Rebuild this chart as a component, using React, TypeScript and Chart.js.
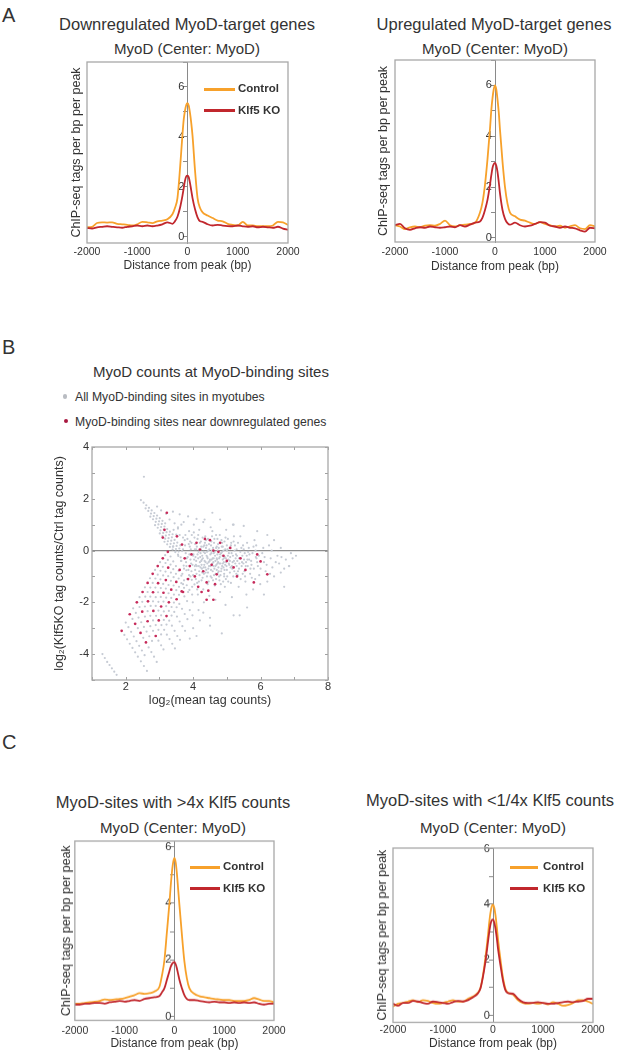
import React, { useEffect, useRef } from "react";
import { Chart, registerables } from "chart.js";
Chart.register(...registerables);

const FONT = "'Liberation Sans', Arial, Helvetica, sans-serif";
const TEXT = "#333333";
const ORANGE = "#f7a12b";
const RED = "#c1272d";
Chart.defaults.font.family = FONT;
Chart.defaults.color = TEXT;

// ---- profile data (distance from peak, bp) ----
const positions = [-2000, -1900, -1800, -1700, -1600, -1500, -1400, -1300, -1200, -1100, -1000, -900, -800, -700, -600, -500, -400, -300, -250, -200, -150, -100, -75, -50, -25, 0, 25, 50, 75, 100, 150, 200, 250, 300, 400, 500, 600, 700, 800, 900, 1000, 1100, 1200, 1300, 1400, 1500, 1600, 1700, 1800, 1900, 2000];
const xTicks = [-2000, -1000, 0, 1000, 2000];

const downControl = [0.38, 0.40, 0.55, 0.58, 0.57, 0.58, 0.52, 0.50, 0.48, 0.45, 0.50, 0.60, 0.58, 0.55, 0.62, 0.65, 0.70, 0.90, 1.15, 1.55, 2.70, 4.10, 4.70, 5.05, 5.28, 5.35, 5.25, 4.95, 4.55, 4.05, 2.65, 1.55, 1.15, 0.98, 0.85, 0.75, 0.65, 0.62, 0.52, 0.48, 0.45, 0.60, 0.45, 0.45, 0.42, 0.42, 0.42, 0.45, 0.60, 0.58, 0.47];
const downKO = [0.35, 0.33, 0.38, 0.40, 0.42, 0.40, 0.38, 0.36, 0.40, 0.42, 0.45, 0.42, 0.45, 0.42, 0.45, 0.50, 0.58, 0.52, 0.62, 0.80, 1.15, 1.65, 1.95, 2.25, 2.42, 2.45, 2.38, 2.15, 1.85, 1.55, 1.10, 0.78, 0.62, 0.60, 0.50, 0.45, 0.48, 0.45, 0.43, 0.42, 0.45, 0.42, 0.40, 0.42, 0.38, 0.40, 0.38, 0.36, 0.40, 0.33, 0.28];

const upControl = [0.50, 0.45, 0.35, 0.42, 0.45, 0.42, 0.48, 0.50, 0.48, 0.55, 0.68, 0.50, 0.45, 0.50, 0.52, 0.55, 0.60, 1.00, 1.40, 2.10, 3.10, 4.30, 5.00, 5.50, 5.85, 6.00, 5.85, 5.45, 4.95, 4.25, 3.00, 2.00, 1.35, 1.00, 0.85, 0.72, 0.68, 0.60, 0.55, 0.62, 0.55, 0.50, 0.45, 0.48, 0.40, 0.45, 0.50, 0.38, 0.35, 0.50, 0.45];
const upKO = [0.50, 0.55, 0.38, 0.32, 0.38, 0.42, 0.40, 0.45, 0.42, 0.40, 0.42, 0.45, 0.42, 0.50, 0.45, 0.52, 0.60, 0.65, 0.80, 1.10, 1.50, 2.10, 2.45, 2.75, 2.90, 2.95, 2.85, 2.60, 2.20, 1.75, 1.10, 0.75, 0.58, 0.52, 0.60, 0.50, 0.45, 0.48, 0.55, 0.62, 0.60, 0.48, 0.45, 0.40, 0.45, 0.40, 0.38, 0.30, 0.25, 0.40, 0.38];

const highControl = [0.45, 0.45, 0.48, 0.50, 0.52, 0.55, 0.60, 0.58, 0.60, 0.62, 0.65, 0.70, 0.75, 0.82, 0.80, 0.82, 0.88, 1.05, 1.45, 2.00, 3.00, 4.00, 4.60, 5.10, 5.45, 5.60, 5.45, 5.05, 4.50, 3.95, 2.90, 1.95, 1.35, 1.00, 0.80, 0.72, 0.68, 0.65, 0.62, 0.60, 0.58, 0.58, 0.55, 0.55, 0.55, 0.58, 0.65, 0.60, 0.55, 0.55, 0.50];
const highKO = [0.42, 0.42, 0.45, 0.45, 0.48, 0.48, 0.45, 0.50, 0.52, 0.55, 0.52, 0.55, 0.58, 0.55, 0.62, 0.65, 0.68, 0.72, 0.85, 1.00, 1.30, 1.60, 1.75, 1.85, 1.90, 1.92, 1.85, 1.70, 1.50, 1.30, 1.00, 0.75, 0.62, 0.58, 0.58, 0.55, 0.52, 0.50, 0.52, 0.50, 0.50, 0.48, 0.50, 0.48, 0.50, 0.48, 0.50, 0.45, 0.42, 0.45, 0.45];

const lowControl = [0.32, 0.42, 0.45, 0.50, 0.55, 0.48, 0.55, 0.52, 0.45, 0.42, 0.45, 0.50, 0.55, 0.50, 0.50, 0.60, 0.68, 0.82, 1.00, 1.45, 2.10, 2.90, 3.35, 3.70, 3.92, 3.98, 3.88, 3.60, 3.20, 2.75, 2.00, 1.35, 0.95, 0.82, 0.75, 0.55, 0.45, 0.42, 0.45, 0.42, 0.45, 0.40, 0.48, 0.42, 0.35, 0.38, 0.45, 0.55, 0.55, 0.50, 0.42];
const lowKO = [0.42, 0.35, 0.45, 0.45, 0.52, 0.50, 0.45, 0.42, 0.50, 0.48, 0.45, 0.42, 0.48, 0.52, 0.50, 0.55, 0.65, 0.80, 0.98, 1.40, 1.95, 2.65, 3.00, 3.28, 3.42, 3.45, 3.35, 3.12, 2.80, 2.40, 1.80, 1.25, 0.90, 0.80, 0.78, 0.60, 0.48, 0.45, 0.45, 0.48, 0.45, 0.42, 0.42, 0.45, 0.48, 0.50, 0.48, 0.50, 0.52, 0.60, 0.60];

// ---- scatter data: [log2(mean tag counts), log2(Klf5KO/Ctrl)] ----
const allSites: [number, number][] = [
  [1.31, -4.0], [1.38, -4.15], [1.45, -4.3], [1.52, -4.42], [1.59, -4.55], [1.66, -4.68], [1.73, -4.8],
  [1.96, -3.26], [2.04, -3.43], [2.12, -3.6], [2.2, -3.76], [2.28, -3.93], [2.36, -4.1], [2.45, -4.28], [2.54, -4.46], [2.63, -4.65],
  [2.2, -2.64], [2.36, -3.0], [2.52, -3.37], [2.68, -3.74], [2.76, -3.92], [2.84, -4.1], [2.92, -4.3],
  [2.41, -2.18], [2.57, -2.55], [2.73, -2.92], [2.81, -3.1], [2.97, -3.48], [3.05, -3.66], [3.12, -3.82],
  [2.58, -1.78], [2.74, -2.14], [2.9, -2.52], [3.06, -2.88], [3.14, -3.06], [3.22, -3.25], [3.3, -3.42], [3.38, -3.6], [3.46, -3.78],
  [2.73, -1.43], [2.89, -1.8], [2.97, -1.98], [3.13, -2.35], [3.29, -2.71], [3.37, -2.9], [3.45, -3.1], [3.53, -3.3], [3.61, -3.45],
  [2.88, -1.08], [3.04, -1.45], [3.2, -1.82], [3.36, -2.18], [3.44, -2.37], [3.52, -2.55], [3.6, -2.74], [3.68, -2.92], [3.76, -3.1],
  [3.03, -0.78], [3.11, -0.96], [3.27, -1.33], [3.43, -1.7], [3.59, -2.06], [3.67, -2.25], [3.75, -2.45], [3.83, -2.65],
  [3.18, -0.48], [3.34, -0.85], [3.42, -1.03], [3.58, -1.4], [3.74, -1.77], [3.82, -1.95], [3.9, -2.3], [3.98, -2.5],
  [3.33, -0.23], [3.41, -0.42], [3.49, -0.6], [3.57, -0.78], [3.65, -0.97], [3.73, -1.15], [3.81, -1.34], [3.89, -1.52], [3.97, -1.7],
  [3.4, 0.15], [3.48, -0.03], [3.56, -0.21], [3.64, -0.4], [3.72, -0.58], [3.8, -0.76], [3.88, -0.95], [3.96, -1.13], [4.04, -1.31], [4.12, -1.5],
  [2.0, -2.78], [2.08, -2.96], [2.16, -3.14], [2.24, -3.32], [2.32, -3.5], [2.4, -3.68], [2.48, -3.86], [2.56, -4.04],
  [2.22, -2.23], [2.3, -2.41], [2.38, -2.59], [2.46, -2.77], [2.54, -2.95], [2.62, -3.13], [2.7, -3.31], [2.78, -3.49],
  [2.41, -1.8], [2.49, -1.98], [2.57, -2.16], [2.65, -2.34], [2.73, -2.52], [2.81, -2.7], [2.89, -2.88], [2.97, -3.06], [3.05, -3.24],
  [2.57, -1.42], [2.65, -1.6], [2.73, -1.78], [2.81, -1.96], [2.89, -2.14], [2.97, -2.32], [3.05, -2.5], [3.13, -2.68], [3.21, -2.86],
  [2.72, -1.07], [2.8, -1.25], [2.88, -1.43], [2.96, -1.61], [3.04, -1.79], [3.12, -1.97], [3.2, -2.15], [3.28, -2.33], [3.36, -2.51],
  [2.87, -0.75], [2.95, -0.93], [3.03, -1.11], [3.11, -1.29], [3.19, -1.47], [3.27, -1.65], [3.35, -1.83], [3.43, -2.01], [3.51, -2.19],
  [3.02, -0.45], [3.1, -0.63], [3.18, -0.81], [3.26, -0.99], [3.34, -1.17], [3.42, -1.35], [3.5, -1.53], [3.58, -1.71],
  [3.17, -0.18], [3.25, -0.36], [3.33, -0.54], [3.41, -0.72], [3.49, -0.9], [3.57, -1.08], [3.65, -1.26], [3.73, -1.44],
  [2.45, 1.95], [2.53, 1.85], [2.61, 1.75], [2.69, 1.65], [2.77, 1.55], [2.85, 1.45], [2.93, 1.35], [3.01, 1.25], [3.09, 1.15], [3.17, 1.05],
  [2.59, 1.63], [2.67, 1.53], [2.75, 1.43], [2.83, 1.33], [2.91, 1.23], [2.99, 1.13], [3.07, 1.03], [3.15, 0.93], [3.23, 0.83], [3.31, 0.73], [3.39, 0.63],
  [2.73, 1.31], [2.81, 1.21], [2.89, 1.11], [2.97, 1.01], [3.05, 0.91], [3.13, 0.81], [3.21, 0.71], [3.29, 0.61], [3.37, 0.51], [3.45, 0.41], [3.53, 0.31],
  [2.87, 0.98], [2.95, 0.88], [3.03, 0.78], [3.11, 0.68], [3.19, 0.58], [3.27, 0.48], [3.35, 0.38], [3.43, 0.28], [3.51, 0.18], [3.59, 0.08], [3.67, -0.02],
  [3.01, 0.66], [3.09, 0.56], [3.17, 0.46], [3.25, 0.36], [3.33, 0.26], [3.41, 0.16], [3.49, 0.06], [3.57, -0.04],
  [3.15, 0.34], [3.23, 0.24], [3.31, 0.14], [3.39, 0.04], [3.47, -0.06], [3.55, -0.16], [3.63, -0.26],
  [2.54, 2.85], [2.93, 1.7], [3.05, 1.55], [3.2, 1.42], [3.4, 1.5], [3.6, 1.4], [3.85, 1.32], [4.1, 1.22], [4.3, 1.1], [4.57, 1.46],
  [3.3, 1.2], [3.45, 1.05], [3.55, 0.85], [3.42, 0.8], [3.5, 0.62], [3.65, 1.0], [3.7, 0.5],
  [4.1, -3.3], [4.85, -3.2], [4.2, -2.7], [4.5, -2.9], [5.2, -2.5], [5.6, -2.2], [6.1, -1.7], [6.7, -1.4], [4.0, -3.0], [3.9, -3.4], [4.3, -2.4],
  [6.84, -0.6], [7.05, -0.2], [6.6, 0.1], [6.4, 0.4], [6.2, 0.6], [5.9, 0.75], [5.5, 0.95], [5.2, 1.0], [4.8, 1.2],
  [3.55, 0.9], [3.6, 0.6], [3.62, 0.2], [3.65, -0.4], [3.68, -0.9], [3.7, -1.3], [3.72, 1.1], [3.75, 0.4], [3.78, -0.1], [3.8, -0.6], [3.82, -1.1], [3.85, -1.6], [3.88, 0.75], [3.9, 0.15], [3.92, -0.35], [3.95, -0.8], [3.97, -1.4], [3.99, -2.0],
  [4.02, 1.0], [4.04, 0.5], [4.05, 0.05], [4.07, -0.25], [4.08, -0.55], [4.1, -0.9], [4.12, -1.25], [4.14, -1.7], [4.16, -2.3], [4.18, 0.8], [4.2, 0.3], [4.22, -0.1], [4.24, -0.4], [4.26, -0.7], [4.28, -1.05], [4.3, -1.5], [4.32, -2.0], [4.34, 1.2], [4.36, 0.55], [4.38, 0.1], [4.4, -0.2], [4.42, -0.5], [4.44, -0.85], [4.46, -1.2], [4.48, -1.75], [4.5, -2.6],
  [4.52, 0.9], [4.54, 0.35], [4.56, 0.0], [4.58, -0.3], [4.6, -0.6], [4.62, -0.95], [4.64, -1.35], [4.66, -1.9], [4.68, 0.6], [4.7, 0.15], [4.72, -0.15], [4.74, -0.45], [4.76, -0.8], [4.78, -1.15], [4.8, -1.6], [4.84, 0.4], [4.86, -0.05], [4.88, -0.35], [4.9, -0.65], [4.92, -1.0], [4.94, -1.4], [4.96, -2.1], [4.98, 0.8],
  [5.0, 0.2], [5.03, -0.2], [5.06, -0.5], [5.09, -0.85], [5.12, -1.25], [5.15, -1.8], [5.18, 1.0], [5.2, 0.35], [5.23, 0.0], [5.26, -0.3], [5.29, -0.6], [5.32, -0.95], [5.35, -1.4], [5.38, -2.5], [5.4, 0.55], [5.43, 0.1], [5.46, -0.2], [5.49, -0.5],
  [5.52, -0.8], [5.55, -1.2], [5.58, -1.7], [5.6, 0.3], [5.63, -0.05], [5.66, -0.35], [5.7, -0.7], [5.74, -1.05], [5.78, -1.5], [5.82, 0.4], [5.85, 0.0], [5.88, -0.3], [5.92, -0.6], [5.96, -0.95], [5.99, -1.3],
  [6.05, -0.1], [6.1, -0.45], [6.15, -0.8], [6.2, -1.2], [6.25, 0.2], [6.3, -0.3], [6.35, -0.65], [6.4, -1.0], [6.5, -0.2], [6.55, -0.5], [6.6, -0.85], [6.75, -0.35], [6.85, -0.6], [6.95, -0.3],
  [3.84, -0.25], [3.93, 0.05], [3.98, -0.55], [4.01, -0.15], [4.06, -0.75], [4.09, -0.4], [4.11, 0.15], [4.15, -0.3], [4.17, -0.6], [4.19, -0.95], [4.21, -0.25], [4.23, 0.05], [4.25, -0.55], [4.27, -0.85], [4.29, -0.3], [4.31, -0.65], [4.33, 0.2], [4.35, -0.1], [4.37, -0.45], [4.39, -0.75], [4.41, -1.0], [4.43, -0.3], [4.45, 0.0], [4.47, -0.6], [4.49, -0.4],
  [4.51, -0.15], [4.53, -0.75], [4.55, -1.05], [4.57, -0.5], [4.59, 0.1], [4.61, -0.3], [4.63, -0.7], [4.65, -0.2], [4.67, -0.9], [4.69, -0.55], [4.71, -0.35], [4.73, 0.0], [4.75, -0.65], [4.77, -1.0], [4.79, -0.25], [4.81, -0.5], [4.83, -0.8], [4.85, 0.15], [4.87, -0.2], [4.89, -1.2], [4.91, -0.45], [4.93, -0.75], [4.95, 0.05], [4.97, -0.3], [4.99, -0.6],
  [5.01, -1.0], [5.05, -0.35], [5.08, 0.1], [5.11, -0.65], [5.14, -0.1], [5.17, -0.45], [5.22, -0.8], [5.27, -0.15], [5.31, -0.4], [5.36, -0.7], [5.42, -0.3], [5.47, -0.9], [5.53, -0.1], [5.57, -0.45],
  [3.76, 0.2], [3.79, -0.45], [3.83, 0.45], [3.86, -0.75], [3.89, -0.15], [3.91, 0.35], [3.94, -0.5], [3.96, 0.6], [4.0, -0.95], [4.03, -0.35], [4.06, 0.25], [4.08, -1.1], [4.11, -0.6], [4.13, 0.45], [4.16, -0.05], [4.18, -0.8], [4.2, -0.45], [4.23, 0.35], [4.25, -1.15], [4.27, -0.2],
  [4.3, 0.15], [4.32, -0.9], [4.34, -0.4], [4.36, -0.65], [4.38, 0.4], [4.41, -0.05], [4.43, -1.3], [4.45, -0.7], [4.47, 0.25], [4.5, -0.35], [4.52, -1.0], [4.54, -0.1], [4.56, 0.55], [4.58, -0.8], [4.6, -0.45], [4.62, 0.3], [4.64, -0.05], [4.66, -0.6], [4.68, -1.1], [4.7, -0.3],
  [4.72, 0.45], [4.74, -0.85], [4.76, 0.1], [4.78, -0.5], [4.8, -0.15], [4.82, -1.3], [4.84, -0.7], [4.86, 0.3], [4.88, -0.5], [4.9, 0.0], [4.92, -0.9], [4.94, -0.25], [4.96, 0.5], [4.98, -0.45], [5.0, -0.75], [5.02, 0.05], [5.04, -1.2], [5.07, -0.55], [5.1, -0.25], [5.13, 0.3],
  [5.16, -0.7], [5.19, -1.0], [5.21, -0.4], [5.24, 0.2], [5.28, -0.9], [5.3, -0.2], [5.33, 0.3], [5.37, -0.5], [5.41, -1.1], [5.44, -0.6], [5.48, 0.2], [5.51, -0.35], [5.54, -1.0], [5.59, -0.2], [5.62, -0.6], [5.65, 0.1], [5.69, -0.9], [5.72, -0.4], [5.76, -0.1], [5.8, -0.7],
  [5.84, -1.1], [5.87, 0.2], [5.9, -0.45], [5.95, -0.2], [6.0, -0.7], [6.08, 0.1], [6.12, -0.25], [6.18, -0.55], [6.28, -0.9], [6.33, 0.0], [6.45, -0.45], [6.62, -0.25], [6.7, -0.7], [6.9, -0.1],
  [3.7, 0.05], [3.73, -0.7], [3.77, 0.6], [3.81, -0.3], [3.87, 0.25], [3.92, -1.0], [3.95, 0.3], [4.0, -0.2], [4.02, 0.7], [4.05, -0.6], [4.09, 0.05], [4.13, -0.15], [4.15, 0.6], [4.17, -1.2], [4.22, -0.65], [4.24, 0.15], [4.26, -0.35], [4.28, 0.5], [4.31, -0.05], [4.33, -0.55],
  [4.35, 0.3], [4.37, -0.85], [4.4, 0.2], [4.42, -0.25], [4.44, 0.45], [4.46, -0.45], [4.48, 0.05], [4.51, -0.6], [4.53, 0.2], [4.55, -0.35], [4.57, 0.75], [4.59, -1.15], [4.61, -0.1], [4.63, 0.45], [4.66, -0.4], [4.68, 0.1], [4.7, -0.75], [4.72, -0.5], [4.74, 0.25], [4.77, -0.3],
  [4.79, 0.6], [4.81, -0.95], [4.83, -0.1], [4.86, -0.6], [4.88, 0.15], [4.91, -0.3], [4.93, 0.35], [4.95, -0.55], [4.97, -1.1], [5.0, 0.0], [5.03, 0.45], [5.06, -0.1], [5.09, -0.4], [5.12, 0.2], [5.15, -0.6], [5.18, -0.2], [5.21, 0.55], [5.25, -0.5], [5.29, 0.05], [5.33, -0.8],
  [5.36, -0.3], [5.4, -0.05], [5.45, -0.45], [5.5, 0.05], [5.56, -0.6], [5.61, -0.35], [5.67, -0.15], [5.73, -0.55], [5.79, 0.15], [5.86, -0.25]
];

const downSites: [number, number][] = [
  [1.88, -3.1], [2.12, -2.46], [2.28, -2.83], [2.44, -3.18], [2.6, -3.55],
  [2.33, -2.0], [2.49, -2.36], [2.65, -2.73], [2.89, -3.3],
  [2.5, -1.6], [2.66, -1.96], [2.82, -2.33], [2.98, -2.7],
  [2.65, -1.25], [2.81, -1.61], [3.05, -2.16], [3.21, -2.53],
  [2.8, -0.9], [2.96, -1.26], [3.12, -1.63], [3.28, -2.0],
  [2.95, -0.6], [3.19, -1.14], [3.35, -1.51], [3.51, -1.88],
  [3.1, -0.3], [3.26, -0.66], [3.5, -1.21], [3.66, -1.58], [3.25, -0.05],
  [3.22, 1.46], [3.1, 0.5], [3.15, 0.8], [3.52, 0.55], [3.67, 0.23], [4.2, 0.04], [4.5, 0.4], [4.35, 0.45], [4.6, 0.0], [4.8, 0.3],
  [5.0, -0.4], [5.2, -0.65], [6.0, -0.42], [6.2, -0.92], [5.8, -1.23], [4.7, -0.92], [4.4, -1.23], [4.4, -1.9], [4.6, -1.9], [3.75, -0.3],
  [3.9, -0.6], [4.05, -1.0], [4.15, -1.4], [3.85, -1.1], [4.3, -0.8], [4.55, -0.55], [4.9, -0.2], [5.1, 0.1], [5.4, -0.3], [5.55, -0.75],
  [5.9, -0.15], [4.25, -1.6], [4.45, -1.55], [3.95, -0.15], [4.65, -1.3], [5.3, -1.0], [3.6, -0.75], [3.7, -1.6], [4.1, 0.3], [4.75, -0.05]
];

type Box = { l: number; t: number; r: number; b: number };

const framePlugin = {
  id: "frame",
  afterDraw(chart: any) {
    const { ctx, chartArea: a } = chart;
    ctx.save();
    ctx.strokeStyle = "#a8a8a8";
    ctx.lineWidth = 1.3;
    ctx.strokeRect(a.left, a.top, a.right - a.left, a.bottom - a.top);
    ctx.restore();
  },
};

const innerTicksPlugin = {
  id: "innerTicks",
  afterDraw(chart: any) {
    const { ctx, chartArea: a, scales } = chart;
    ctx.save();
    ctx.strokeStyle = "#a0a0a0";
    ctx.lineWidth = 1;
    ctx.beginPath();
    scales.x.ticks.forEach((t: any) => {
      const px = Math.round(scales.x.getPixelForValue(t.value)) + 0.5;
      ctx.moveTo(px, a.top); ctx.lineTo(px, a.top + 3);
      ctx.moveTo(px, a.bottom); ctx.lineTo(px, a.bottom - 3);
    });
    scales.y.ticks.forEach((t: any) => {
      const py = Math.round(scales.y.getPixelForValue(t.value)) + 0.5;
      ctx.moveTo(a.left, py); ctx.lineTo(a.left + 3, py);
      ctx.moveTo(a.right, py); ctx.lineTo(a.right - 3, py);
    });
    ctx.stroke();
    ctx.restore();
  },
};

function Profile(props: { box: Box; yMin: number; yMax: number; control: number[]; ko: number[]; yTitleW: number; xAxisH: number; xTickPad: number }) {
  const { box, yMin, yMax, control, ko, yTitleW, xAxisH, xTickPad } = props;
  const ref = useRef<HTMLCanvasElement>(null);
  const padT = 10;
  const padR = 20;
  const left = box.l - yTitleW;
  const top = box.t - padT;
  const width = box.r - box.l + yTitleW + padR;
  const height = box.b - box.t + padT + xAxisH;
  useEffect(() => {
    const chart = new Chart(ref.current as HTMLCanvasElement, {
      type: "line",
      data: {
        datasets: [
          { label: "Klf5 KO", data: positions.map((x, i) => ({ x, y: ko[i] })), borderColor: RED, borderWidth: 1.8, pointRadius: 0, cubicInterpolationMode: "monotone", xAxisID: "x", yAxisID: "y" },
          { label: "Control", data: positions.map((x, i) => ({ x, y: control[i] })), borderColor: ORANGE, borderWidth: 1.8, pointRadius: 0, cubicInterpolationMode: "monotone", xAxisID: "x", yAxisID: "y" },
        ],
      } as any,
      options: {
        animation: false,
        responsive: false,
        maintainAspectRatio: false,
        events: [],
        layout: { padding: { left: 0, top: padT, right: padR, bottom: 0 } },
        plugins: { legend: { display: false }, tooltip: { enabled: false } },
        scales: {
          x: {
            type: "linear",
            min: -2000,
            max: 2000,
            afterBuildTicks: (s: any) => { s.ticks = xTicks.map((v) => ({ value: v })); },
            ticks: { font: { size: 10.5 }, color: TEXT, padding: xTickPad, maxRotation: 0, autoSkip: false, callback: (v: any) => String(v) },
            grid: { display: false, drawTicks: false },
            border: { display: false },
            title: { display: true, text: "Distance from peak (bp)", font: { size: 12 }, color: TEXT, padding: 0 },
            afterFit: (s: any) => { s.height = xAxisH; },
          },
          y: {
            type: "linear",
            axis: "y",
            min: yMin,
            max: yMax,
            position: { x: 0 },
            ticks: { stepSize: 1, includeBounds: false, font: { size: 11 }, color: TEXT, padding: 2, callback: (v: any) => (Number(v) % 2 === 0 ? String(v) + " " : "") },
            grid: { display: true, drawOnChartArea: false, drawTicks: true, tickLength: 4, color: "#8a8a8a" },
            border: { display: true, color: "#8a8a8a", width: 1 },
          },
          yl: {
            type: "linear",
            axis: "y",
            position: "left",
            min: yMin,
            max: yMax,
            ticks: { display: false },
            grid: { display: false, drawTicks: false },
            border: { display: false },
            title: { display: true, text: "ChIP-seq tags per bp per peak", font: { size: 12.5 }, color: TEXT, padding: 0 },
            afterFit: (s: any) => { s.width = yTitleW; },
          },
        },
      } as any,
      plugins: [framePlugin],
    });
    return () => chart.destroy();
  }, []);
  return <canvas ref={ref} width={width} height={height} style={{ position: "absolute", left, top, width, height }} />;
}

function Scatter() {
  const ref = useRef<HTMLCanvasElement>(null);
  const box = { l: 92, t: 447, r: 328, b: 680 };
  const yW = 40;
  const xH = 28;
  const padT = 10;
  const padR = 18;
  const left = box.l - yW;
  const top = box.t - padT;
  const width = box.r - box.l + yW + padR;
  const height = box.b - box.t + padT + xH;
  useEffect(() => {
    const chart = new Chart(ref.current as HTMLCanvasElement, {
      type: "scatter",
      data: {
        datasets: [
          { label: "MyoD-binding sites near downregulated genes", data: downSites.map(([x, y]) => ({ x, y })), backgroundColor: "#c62a5a", pointRadius: 1.35, pointBorderWidth: 0 },
          { label: "All MyoD-binding sites in myotubes", data: allSites.map(([x, y]) => ({ x, y })), backgroundColor: "#c6cbd4", pointRadius: 1.1, pointBorderWidth: 0 },
        ],
      } as any,
      options: {
        animation: false,
        responsive: false,
        maintainAspectRatio: false,
        events: [],
        layout: { padding: { left: 0, top: padT, right: padR, bottom: 0 } },
        plugins: { legend: { display: false }, tooltip: { enabled: false } },
        scales: {
          x: {
            type: "linear",
            min: 1,
            max: 8,
            ticks: { stepSize: 1, font: { size: 11 }, color: TEXT, padding: 0, maxRotation: 0, autoSkip: false, callback: (v: any) => (Number(v) % 2 === 0 ? String(v) : "") },
            grid: { display: false, drawTicks: false },
            border: { display: false },
            title: { display: true, text: "log\u2082(mean tag counts)", font: { size: 12.5 }, color: TEXT, padding: 0 },
            afterFit: (s: any) => { s.height = xH; },
          },
          y: {
            type: "linear",
            min: -5,
            max: 4,
            position: "left",
            ticks: { stepSize: 1, font: { size: 11 }, color: TEXT, padding: 3, callback: (v: any) => (Number(v) % 2 === 0 ? String(v) : "") },
            grid: { display: true, drawTicks: false, lineWidth: 1.2, color: (c: any) => (c.tick && c.tick.value === 0 ? "#8c8c8c" : "rgba(0,0,0,0)") },
            border: { display: false },
            title: { display: true, text: "log\u2082(Klf5KO tag counts/Ctrl tag counts)", font: { size: 12.5 }, color: TEXT, padding: 0 },
            afterFit: (s: any) => { s.width = yW; },
          },
        },
      } as any,
      plugins: [innerTicksPlugin, framePlugin],
    });
    return () => chart.destroy();
  }, []);
  return <canvas ref={ref} width={width} height={height} style={{ position: "absolute", left, top, width, height }} />;
}

function T(props: { x: number; y: number; s: number; w?: number; align?: string; children: any }) {
  const { x, y, s, w = 400, align = "center", children } = props;
  const tx = align === "center" ? "-50%" : align === "right" ? "-100%" : "0";
  return (
    <div style={{ position: "absolute", left: x, top: y, transform: `translate(${tx},-50%)`, fontSize: s, fontWeight: w, lineHeight: 1, whiteSpace: "nowrap", fontFamily: FONT, color: TEXT }}>
      {children}
    </div>
  );
}

function LegendBox(props: { x: number; y: number; w: number; tx: number }) {
  const { x, y, w, tx } = props;
  const items = [
    { label: "Control", color: ORANGE, dy: 0 },
    { label: "Klf5 KO", color: RED, dy: 21.5 },
  ];
  return (
    <>
      {items.map((it) => (
        <React.Fragment key={it.label}>
          <div style={{ position: "absolute", left: x, top: y + it.dy - 1.5, width: w, height: 3, background: it.color }} />
          <T x={tx} y={y + it.dy} s={11.5} w={700} align="left">{it.label}</T>
        </React.Fragment>
      ))}
    </>
  );
}

export default function App() {
  return (
    <div style={{ position: "absolute", left: 0, top: 0, width: 617, height: 1052, background: "#ffffff", overflow: "hidden", fontFamily: FONT }}>
      <T x={2} y={14.5} s={20} align="left">A</T>
      <T x={187} y={23.5} s={16.5}>Downregulated MyoD-target genes</T>
      <T x={187} y={48} s={15}>MyoD (Center: MyoD)</T>
      <T x={494} y={24} s={16.5}>Upregulated MyoD-target genes</T>
      <T x={495} y={48} s={15}>MyoD (Center: MyoD)</T>
      <Profile box={{ l: 87, t: 62, r: 288, b: 243 }} yMin={-0.25} yMax={7} control={downControl} ko={downKO} yTitleW={18} xAxisH={30} xTickPad={2.5} />
      <Profile box={{ l: 395, t: 60, r: 595, b: 242 }} yMin={-0.16} yMax={7} control={upControl} ko={upKO} yTitleW={19} xAxisH={32} xTickPad={3.4} />
      <LegendBox x={204} y={89.3} w={31} tx={238} />

      <T x={2} y={347} s={20} align="left">B</T>
      <T x={211} y={371} s={15}>MyoD counts at MyoD-binding sites</T>
      <div style={{ position: "absolute", left: 62.7, top: 394.4, width: 4.6, height: 4.6, borderRadius: "50%", background: "#b9bcc2" }} />
      <T x={75} y={397} s={12.2} align="left">All MyoD-binding sites in myotubes</T>
      <div style={{ position: "absolute", left: 63.7, top: 418.7, width: 4.6, height: 4.6, borderRadius: "50%", background: "#a8173f" }} />
      <T x={75} y={421.5} s={12.2} align="left">MyoD-binding sites near downregulated genes</T>
      <Scatter />

      <T x={2} y={742} s={20} align="left">C</T>
      <T x={173} y={802} s={16.5}>MyoD-sites with &gt;4x Klf5 counts</T>
      <T x={173} y={827} s={15}>MyoD (Center: MyoD)</T>
      <T x={490} y={800} s={16.5}>MyoD-sites with &lt;1/4x Klf5 counts</T>
      <T x={493} y={827} s={15}>MyoD (Center: MyoD)</T>
      <Profile box={{ l: 73, t: 841, r: 274, b: 1020 }} yMin={-0.14} yMax={6.2} control={highControl} ko={highKO} yTitleW={16} xAxisH={30.5} xTickPad={4.4} />
      <Profile box={{ l: 393, t: 848, r: 593, b: 1022 }} yMin={-0.25} yMax={6.02} control={lowControl} ko={lowKO} yTitleW={18} xAxisH={28.5} xTickPad={1.8} />
      <LegendBox x={190} y={867.3} w={30} tx={223} />
      <LegendBox x={510} y={867.3} w={28} tx={543} />
    </div>
  );
}
